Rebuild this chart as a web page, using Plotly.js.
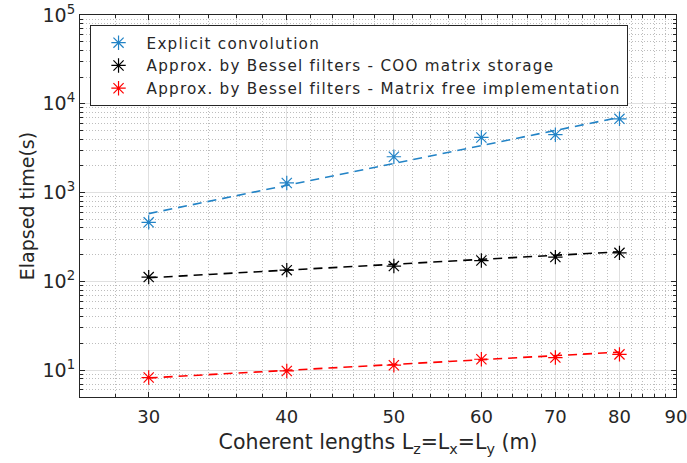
<!DOCTYPE html>
<html>
<head>
<meta charset="utf-8">
<script src="https://cdn.plot.ly/plotly-3.0.1.min.js"></script>
<style>
html,body{margin:0;padding:0;background:#fff;}
#chart{width:687px;height:463px;}
.legendtext{letter-spacing:1.25px;}
</style>
</head>
<body>
<div id="chart"></div>
<script>
// ---- data ----
const lengths = [30, 40, 50, 60, 70, 80];
const explicitConv = [463, 1285, 2535, 4180, 4490, 6780];
const besselCOO = [112, 134, 149, 172, 188, 210];
const besselMatrixFree = [8.28, 9.82, 11.4, 13.3, 13.9, 15.1];
// fitted trend lines (read at end points)
const fitX = [30, 80];
const fitExplicit = [580, 7050];
const fitCOO = [110, 216];
const fitMatrixFree = [8.2, 16.0];
const seriesNames = [
  'Explicit convolution',
  'Approx. by Bessel filters - COO matrix storage',
  'Approx. by Bessel filters - Matrix free implementation'
];
const xTickVals = [30, 40, 50, 60, 70, 80, 90];
const yTickVals = [10, 100, 1000, 10000, 100000];
const yTickText = ['10<sup>1</sup>', '10<sup>2</sup>', '10<sup>3</sup>', '10<sup>4</sup>', '10<sup>5</sup>'];
const xMinorVals = [26, 28, 32, 34, 36, 38, 42, 44, 46, 48, 52, 54, 56, 58, 62, 64, 66, 68, 72, 74, 76, 78, 82, 84, 86, 88];
const yMinorMult = [2, 3, 4, 5, 6, 7, 8, 9];
const yDecades = [1, 10, 100, 1000, 10000];

const colors = ['#2283c6', '#000000', '#ff0000'];
const yMinorVals = [];
yDecades.forEach(d => yMinorMult.forEach(m => yMinorVals.push(m * d)));

const dataSets = [explicitConv, besselCOO, besselMatrixFree];
const fits = [fitExplicit, fitCOO, fitMatrixFree];
const traces = [];
dataSets.forEach((ys, i) => {
  traces.push({
    x: lengths, y: ys, type: 'scatter', mode: 'markers', name: seriesNames[i],
    marker: {symbol: 'asterisk-open', size: 12, color: colors[i], line: {color: colors[i], width: 1.2}}
  });
});
fits.forEach((ys, i) => {
  traces.push({
    x: fitX, y: ys, type: 'scatter', mode: 'lines', showlegend: false, hoverinfo: 'skip',
    line: {color: colors[i], width: 1.6, dash: '9px,6px'}
  });
});

const fontFam = 'DejaVu Sans, sans-serif';
const minorGrid = {ticks: 'inside', ticklen: 3, tickcolor: '#262626', showgrid: true, gridcolor: '#bdbdbd', griddash: '1px,2px', gridwidth: 1};
const layout = {
  width: 687, height: 463,
  margin: {l: 80, r: 11, t: 15, b: 66},
  paper_bgcolor: '#ffffff', plot_bgcolor: '#ffffff',
  font: {family: fontFam, size: 17, color: '#262626'},
  showlegend: true,
  legend: {
    x: 0.016, y: 0.973, xanchor: 'left', yanchor: 'top',
    bgcolor: '#ffffff', bordercolor: '#262626', borderwidth: 1,
    font: {family: fontFam, size: 15.2, color: '#262626'},
    tracegroupgap: 0, itemwidth: 46
  },
  xaxis: {
    type: 'log', range: [Math.log10(26), Math.log10(90)],
    tickvals: xTickVals, ticktext: xTickVals.map(String),
    ticks: 'inside', ticklen: 5, tickcolor: '#262626',
    ticklabeloverflow: 'allow', ticklabelstandoff: 3,
    showline: true, linecolor: '#262626', linewidth: 1, mirror: 'ticks',
    showgrid: true, gridcolor: '#e0e0e0', gridwidth: 1,
    zeroline: false,
    tickfont: {size: 18, color: '#262626'},
    minor: Object.assign({tickvals: xMinorVals}, minorGrid),
    title: {text: 'Coherent lengths L<sub>z</sub>=L<sub>x</sub>=L<sub>y</sub> (m)', font: {size: 20.5, color: '#262626'}, standoff: 9}
  },
  yaxis: {
    type: 'log', range: [Math.log10(5), 5],
    tickvals: yTickVals, ticktext: yTickText,
    ticks: 'inside', ticklen: 5, tickcolor: '#262626',
    showline: true, linecolor: '#262626', linewidth: 1, mirror: 'ticks',
    showgrid: true, gridcolor: '#e0e0e0', gridwidth: 1,
    zeroline: false,
    tickfont: {size: 19, color: '#262626'},
    minor: Object.assign({tickvals: yMinorVals}, minorGrid),
    title: {text: 'Elapsed time(s)', font: {size: 19, color: '#262626'}, standoff: 2}
  }
};

Plotly.newPlot('chart', traces, layout, {displayModeBar: false, staticPlot: true});
</script>
</body>
</html>
